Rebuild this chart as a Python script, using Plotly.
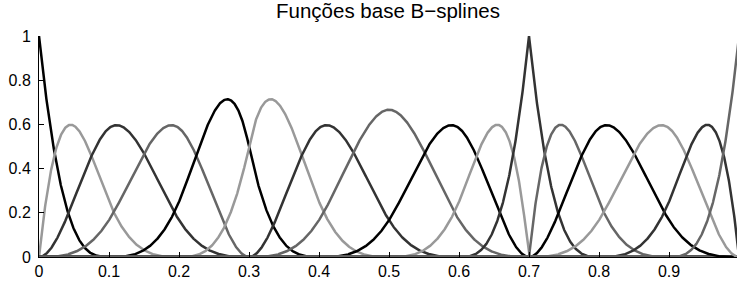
import numpy as np
import plotly.graph_objects as go

# Cubic B-spline basis: knot vector
degree = 3
knots = [0, 0, 0, 0, 0.1, 0.2, 0.3, 0.3, 0.4, 0.5, 0.6,
         0.7, 0.7, 0.7, 0.8, 0.9, 1, 1, 1, 1]
line_colors = ["#000000", "#999999", "#333333", "#666666"]
x_tickvals = [0, 0.1, 0.2, 0.3, 0.4, 0.5, 0.6, 0.7, 0.8, 0.9]
x_ticktext = ["0", "0.1", "0.2", "0.3", "0.4", "0.5", "0.6", "0.7", "0.8", "0.9"]
y_tickvals = [0, 0.2, 0.4, 0.6, 0.8, 1]
y_ticktext = ["0", "0.2", "0.4", "0.6", "0.8", "1"]
title_text = "Funções base B−splines"


def bspline_basis(U, p, x):
    U = np.asarray(U, dtype=float)
    m = len(U) - 1
    N = np.zeros((m, len(x)))
    for i in range(m):
        N[i] = ((x >= U[i]) & (x < U[i + 1])).astype(float)
    last = max(i for i in range(m) if U[i] < U[i + 1])
    N[last, x == U[-1]] = 1.0
    for k in range(1, p + 1):
        Nk = np.zeros((m - k, len(x)))
        for i in range(m - k):
            a = np.zeros_like(x)
            b = np.zeros_like(x)
            d1 = U[i + k] - U[i]
            d2 = U[i + k + 1] - U[i + 1]
            if d1 > 0:
                a = (x - U[i]) / d1 * N[i]
            if d2 > 0:
                b = (U[i + k + 1] - x) / d2 * N[i + 1]
            Nk[i] = a + b
        N = Nk
    return N


xs = np.round(np.linspace(0, 1, 2001), 10)
basis = bspline_basis(knots, degree, xs)

fig = go.Figure()
for i, row in enumerate(basis):
    fig.add_trace(go.Scatter(
        x=xs, y=row, mode="lines",
        line=dict(color=line_colors[i % len(line_colors)], width=2.5),
        showlegend=False, hoverinfo="skip",
    ))

font_family = "Liberation Sans, Arial, Helvetica, sans-serif"
fig.update_layout(
    width=737, height=285,
    margin=dict(l=39, r=0, t=36, b=28, autoexpand=False),
    paper_bgcolor="white", plot_bgcolor="white",
    font=dict(family=font_family, size=16, color="black"),
    title=dict(text=title_text, x=0.5, xref="paper", xanchor="center",
               y=1 - 11 / 285, yref="container", yanchor="middle",
               font=dict(family=font_family, size=20.5, color="black")),
)
fig.update_xaxes(
    range=[0, 0.9971], tickvals=x_tickvals, ticktext=x_ticktext,
    showline=True, linecolor="black", linewidth=1, mirror=False,
    ticks="inside", ticklen=5, tickcolor="black", tickwidth=1,
    showgrid=False, zeroline=False, automargin=False, ticklabelstandoff=0,
)
fig.update_yaxes(
    range=[0, 1], tickvals=y_tickvals, ticktext=y_ticktext,
    showline=True, linecolor="black", linewidth=1, mirror=False,
    ticks="inside", ticklen=5, tickcolor="black", tickwidth=1,
    showgrid=False, zeroline=False, ticklabelstandoff=4, automargin=False,
)

fig.write_html(
    "out.html",
    config={"displayModeBar": False},
    post_script="document.body.style.margin='0';document.body.style.overflow='hidden';",
)
